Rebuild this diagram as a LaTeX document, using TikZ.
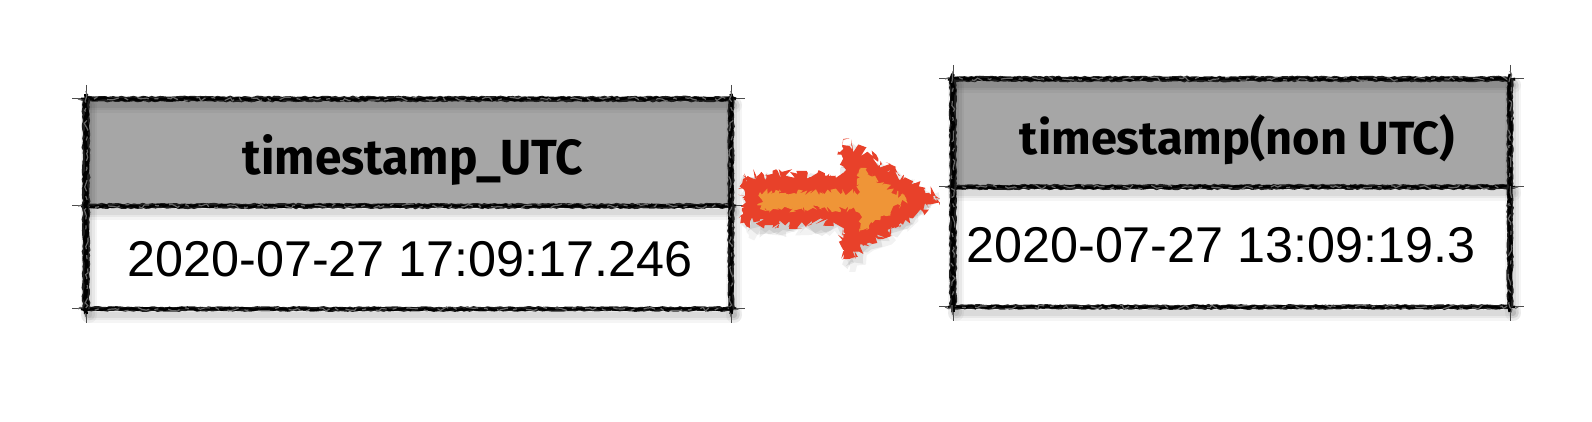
\documentclass[tikz,border=0pt]{standalone}
\usepackage{fontspec}
\usepackage{graphicx}
\setmainfont{Liberation Sans}
\newfontfamily\handfont{Fira Sans}
\usetikzlibrary{calc,fit,decorations.pathmorphing}
\definecolor{hdrgray}{HTML}{A6A6A6}
\definecolor{arrred}{HTML}{E8412A}
\definecolor{arrorange}{HTML}{EF9537}
\tikzset{
  cellbox/.style={inner sep=0pt, outer sep=0pt},
  hdrfill/.style={cellbox, fill=hdrgray},
  bodyfill/.style={cellbox, fill=white},
  hdrtext/.style={anchor=base, inner sep=0pt},
  bodytext/.style={inner sep=0pt, font=\fontsize{25.15pt}{30pt}\selectfont},
  fuzz/.style 2 args={decorate, decoration={random steps, segment length=#1, amplitude=#2}},
}
\newcommand\brushline[3]{%
  \draw[line width=0.5pt, black!70] ($(#2)!-7pt!(#3)$) -- ($(#3)!-7pt!(#2)$);
  \draw[line width=#1, black!88, decorate, decoration={random steps,segment length=1.5pt,amplitude=0.35pt}] (#2) -- (#3);
  \draw[line width=#1*0.55, black, decorate, decoration={random steps,segment length=2pt,amplitude=0.6pt}] ($(#2)!-2.5pt!(#3)$) -- ($(#3)!-2.5pt!(#2)$);
  \draw[line width=0.6pt, black!60, dash pattern=on 6pt off 3pt on 2pt off 5pt, decorate, decoration={random steps,segment length=2pt,amplitude=1pt}] ($(#2)!-4pt!(#3)$) -- ($(#3)!-4pt!(#2)$);
}
\newcommand\brushshadow[2]{%
  \foreach \w/\o in {16/0.04,11/0.05,6/0.06} {%
    \draw[line width=\w*0.5pt, black, opacity=\o, line cap=round] ($(#1)+(3,6)$) -- ($(#2)+(3,6)$);}%
}
\begin{document}
\begin{tikzpicture}[x=0.5pt,y=-0.5pt]
\pgfmathsetseed{4242}
\useasboundingbox (0,0) rectangle (1592,422);
\fill[white] (0,0) rectangle (1592,422);

% table cells
\node[hdrfill, fit={(86,99) (731,206)}] (lh) {};
\node[bodyfill, fit={(86,206) (731,309)}] (lb) {};
\node[hdrfill, fit={(953,79) (1510,187)}] (rh) {};
\node[bodyfill, fit={(953,187) (1510,307)}] (rb) {};

% shadows of the brush strokes
\brushshadow{lh.north west}{lh.north east}
\brushshadow{lh.south west}{lh.south east}
\brushshadow{lb.south west}{lb.south east}
\brushshadow{lh.north east}{lb.south east}
\brushshadow{lh.north west}{lb.south west}
\brushshadow{rh.north west}{rh.north east}
\brushshadow{rh.south west}{rh.south east}
\brushshadow{rb.south west}{rb.south east}
\brushshadow{rh.north east}{rb.south east}
\brushshadow{rh.north west}{rb.south west}

% texts
\node[hdrtext] (lht) at (413,175) {\resizebox{170pt}{20pt}{\handfont\bfseries timestamp\_UTC}};
\node[hdrtext] (rht) at (1237.5,155) {\resizebox{217.5pt}{20pt}{\handfont\bfseries timestamp(non UTC)}};
\node[bodytext, anchor=base] (lbt) at (410,277) {2020-07-27 17:09:17.246};
\node[bodytext, anchor=base west] (rbt) at (966,263) {2020-07-27 13:09:19.3};

% borders, left table
\brushline{2.6pt}{lh.north west}{lh.north east}
\brushline{2.4pt}{lh.south west}{lh.south east}
\brushline{2.2pt}{lb.south west}{lb.south east}
\brushline{3.6pt}{lh.north west}{lb.south west}
\brushline{3pt}{lh.north east}{lb.south east}
% borders, right table
\brushline{2.6pt}{rh.north west}{rh.north east}
\brushline{2.4pt}{rh.south west}{rh.south east}
\brushline{2.2pt}{rb.south west}{rb.south east}
\brushline{3.4pt}{rh.north west}{rb.south west}
\brushline{3pt}{rh.north east}{rb.south east}

% arrow
\coordinate (atail) at (743,199);
\coordinate (atip) at (940,199);
\foreach \s/\o in {12/0.05,9/0.07,6/0.08} {
  \fill[black, opacity=\o, fuzz={3pt}{3pt}, shift={(\s*0.5,\s)}]
    (atail) ++(0,-24) -- (843,175) -- (843,140) -- (atip) -- (843,260) -- (843,223) -- ++(-100,0) -- cycle;
}
\fill[arrred, fuzz={1pt}{3pt}] (atail) ++(0,-24) -- (843,175) -- (843,140) -- (atip) -- (843,260) -- (843,223) -- ++(-100,0) -- cycle;
\fill[arrred, fuzz={1.5pt}{1.8pt}] (atail) ++(0,-20) -- (845,179) -- (845,146) -- (935,199) -- (845,254) -- (845,219) -- ++(-102,0) -- cycle;
\fill[arrorange, fuzz={1pt}{1.8pt}] (760,192) -- (860,192) -- (860,168) -- (907,200) -- (860,232) -- (860,209) -- (760,209) -- cycle;
\end{tikzpicture}
\end{document}
